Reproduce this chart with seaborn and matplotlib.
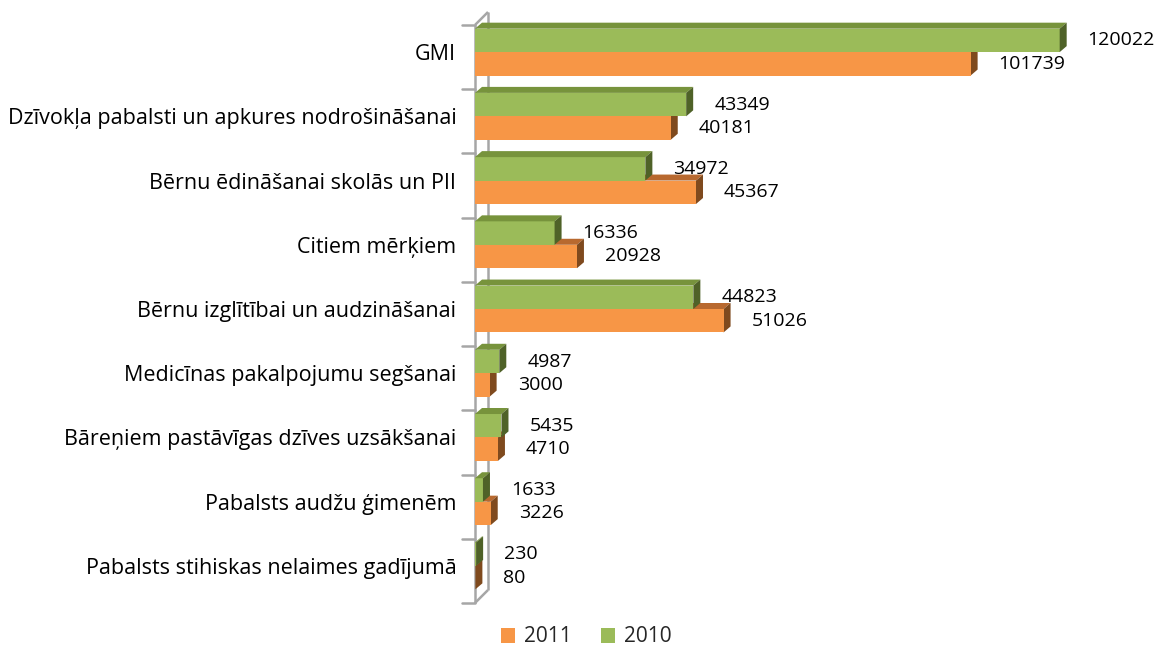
import matplotlib
matplotlib.use("Agg")
import matplotlib.pyplot as plt
import seaborn as sns
import pandas as pd
import numpy as np
from matplotlib.patches import Polygon
from matplotlib.lines import Line2D
from matplotlib.transforms import IdentityTransform

categories = [
    "GMI",
    "Dzīvokļa pabalsti un apkures nodrošināšanai",
    "Bērnu ēdināšanai skolās un PII",
    "Citiem mērķiem",
    "Bērnu izglītībai un audzināšanai",
    "Medicīnas pakalpojumu segšanai",
    "Bāreņiem pastāvīgas dzīves uzsākšanai",
    "Pabalsts audžu ģimenēm",
    "Pabalsts stihiskas nelaimes gadījumā",
]
values_2010 = [120022, 43349, 34972, 16336, 44823, 4987, 5435, 1633, 230]
values_2011 = [101739, 40181, 45367, 20928, 51026, 3000, 4710, 3226, 80]
years = ["2010", "2011"]
legend_order = ["2011", "2010"]

colors = {"2010": "#9BBB59", "2011": "#F79646"}
top_colors = {"2010": "#77933C", "2011": "#B8692F"}
side_colors = {"2010": "#4F6228", "2011": "#7F4A1E"}

df = pd.DataFrame({
    "category": categories * 2,
    "value": values_2010 + values_2011,
    "year": ["2010"] * len(categories) + ["2011"] * len(categories),
})

sns.set_theme(style="white")
plt.rcParams["font.family"] = ["Open Sans", "DejaVu Sans"]

W, H = 1168, 650
fig = plt.figure(figsize=(W / 100, H / 100), dpi=100)
ax = fig.add_axes([475 / W, 1 - 598 / H, (1157 - 475) / W, (598 - 20) / H])

sns.barplot(data=df, y="category", x="value", hue="year", hue_order=years,
            order=categories, palette=colors, orient="h", width=0.73,
            saturation=1, ax=ax, legend=False, linewidth=0)

ax.set_xlim(0, 140000)
ax.set_ylim(len(categories) - 0.5, -0.5)
for s in ax.spines.values():
    s.set_visible(False)
ax.set_xticks([])
ax.set_xlabel("")
ax.set_ylabel("")
ax.set_yticks(range(len(categories)))
ax.set_yticklabels(categories, fontsize=15.5, color="#000000")
ax.tick_params(axis="y", length=0, pad=13.5)

fig.canvas.draw()

dx, dy = 7, 6  # pixel depth of 3D effect
ident = IdentityTransform()
bars = ax.patches[:2 * len(categories)]
for i, p in enumerate(bars):
    yr = years[i // len(categories)]
    bb = p.get_window_extent()
    x0, x1, y0, y1 = bb.x0, bb.x1, bb.y0, bb.y1
    z = 0.8 if yr == "2011" else 1.2
    p.set_zorder(1.0)
    top = Polygon([[x0, y1], [x1, y1], [x1 + dx, y1 + dy], [x0 + dx, y1 + dy]],
                  closed=True, transform=ident, facecolor=top_colors[yr],
                  edgecolor="none", zorder=z, clip_on=False)
    side = Polygon([[x1, y0], [x1 + dx, y0 + dy], [x1 + dx, y1 + dy], [x1, y1]],
                   closed=True, transform=ident, facecolor=side_colors[yr],
                   edgecolor="none", zorder=z, clip_on=False)
    ax.add_artist(top)
    ax.add_artist(side)
    val = p.get_width()
    ax.annotate(f"{int(round(val))}", xy=(val, p.get_y() + p.get_height() / 2),
                xytext=(28, 0), textcoords="offset pixels", va="center",
                ha="left", fontsize=14, color="#000000", zorder=3)

# 3D wall
n = len(categories)
yb = [ax.transData.transform((0, k - 0.5))[1] - 5 for k in range(n + 1)]
xf = ax.transData.transform((0, 0))[0]
wall = "#A6A6A6"
ft, fb = yb[0], yb[-1]
for seg in [
    [(xf, ft), (xf, fb)],
    [(xf + 13, ft + 13), (xf + 13, fb + 13)],
    [(xf, ft), (xf + 13, ft + 13)],
    [(xf, fb), (xf + 13, fb + 13)],
]:
    ax.add_artist(Line2D([seg[0][0], seg[1][0]], [seg[0][1], seg[1][1]],
                         transform=ident, color=wall, lw=1.8, zorder=0.5,
                         solid_capstyle="butt", clip_on=False))
for yy in yb:
    ax.add_artist(Line2D([xf - 13, xf], [yy, yy], transform=ident,
                         color=wall, lw=1.8, zorder=0.5, clip_on=False))

handles = [plt.Rectangle((0, 0), 1, 1, facecolor=colors[y], edgecolor="none")
           for y in legend_order]
fig.legend(handles, legend_order, loc="center", bbox_to_anchor=(586 / W, 1 - 637 / H),
           ncol=2, frameon=False, fontsize=15, handlelength=0.7, handleheight=0.7,
           handletextpad=0.4, columnspacing=1.4)

fig.savefig("out.png", dpi=100)
